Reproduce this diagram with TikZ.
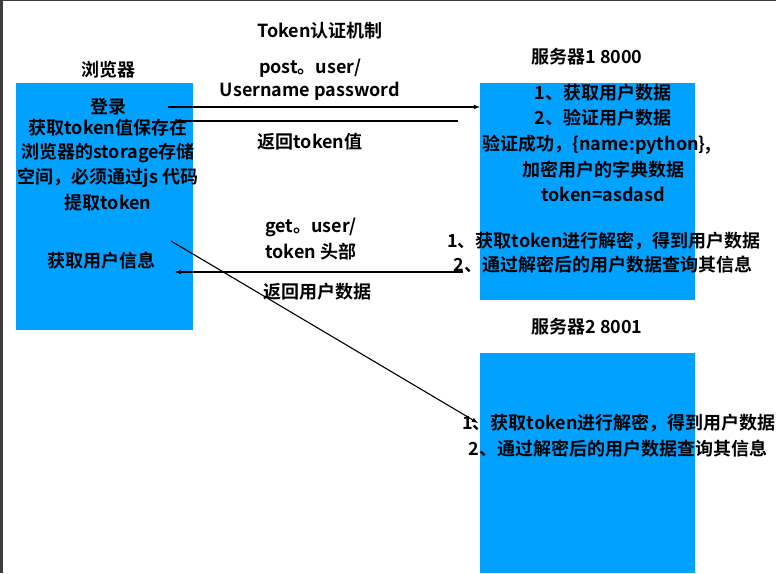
\documentclass[tikz,border=0pt]{standalone}
\usepackage{fontspec}
\setmainfont{Noto Sans CJK SC}[BoldFont={Noto Sans CJK SC Bold}]
\usepackage{tikz}
\usetikzlibrary{arrows}
\definecolor{boxblue}{RGB}{0,161,255}
\definecolor{frame}{RGB}{60,63,65}
\tikzset{
  txt/.style={font=\fontsize{18}{21}\selectfont\bfseries, inner sep=0pt},
  link/.style={line width=1.1pt, black, ->, >=latex},
}
\begin{document}
\begin{tikzpicture}[x=1pt,y=-1pt]
\useasboundingbox (0,0) rectangle (776,573);
\fill[white] (0,0) rectangle (776,573);
\fill[frame] (0,0) rectangle (3,573);
\fill[frame] (0,0) rectangle (776,1.2);

\fill[boxblue] (16,83) rectangle (193,330);
\fill[boxblue] (480,83) rectangle (695,300);
\fill[boxblue] (480,353) rectangle (695,573);

\node[txt] (title) at (320,31) {Token认证机制};
\node[txt] (browser) at (108,70) {浏览器};
\node[txt] (server1) at (587,57) {服务器1 8000};
\node[txt] (server2) at (587,327) {服务器2 8001};

\node[txt] (login) at (108,107) {登录};
\node[txt] (save1) at (108,128) {获取token值保存在};
\node[txt] (save2) at (108,153) {浏览器的storage存储};
\node[txt] (save3) at (108,178) {空间，必须通过js 代码};
\node[txt] (save4) at (108,203) {提取token};
\node[txt] (getinfo) at (101,261) {获取用户信息};

\node[txt] (post1) at (310,68) {post。user/};
\node[txt] (post2) at (310,91) {Username password};
\node[txt] (back1) at (310,142) {返回token值};
\node[txt, anchor=west] (get1) at (265,227) {get。user/};
\node[txt, anchor=west] (get2) at (265,252) {token 头部};
\node[txt, anchor=west] (back2) at (263,292) {返回用户数据};

\node[txt] (s1a) at (603,93) {1、获取用户数据};
\node[txt] (s1b) at (603,118) {2、验证用户数据};
\node[txt] (s1c) at (597,145) {验证成功，\{name:python\},};
\node[txt] (s1d) at (603,170) {加密用户的字典数据};
\node[txt] (s1e) at (603,194) {token=asdasd};
\node[txt] (s1f) at (604,241) {1、获取token进行解密，得到用户数据};
\node[txt] (s1g) at (603,265) {2、通过解密后的用户数据查询其信息};

\node[txt] (s2a) at (619,423) {1、获取token进行解密，得到用户数据};
\node[txt] (s2b) at (618,449) {2、通过解密后的用户数据查询其信息};

\coordinate (loginout) at (168,107);
\coordinate (s1in) at (480,107);
\coordinate (s1out) at (458,121);
\coordinate (tokenin) at (175,121);
\coordinate (getout) at (171,241);
\coordinate (s2in) at (478,423);
\coordinate (s1back) at (463,272);
\coordinate (infoin) at (175,272);

\draw[link] (loginout) -- (s1in);
\draw[link] (s1out) -- (tokenin);
\draw[link] (getout) -- (s2in);
\draw[link] (s1back) -- (infoin);
\end{tikzpicture}
\end{document}
